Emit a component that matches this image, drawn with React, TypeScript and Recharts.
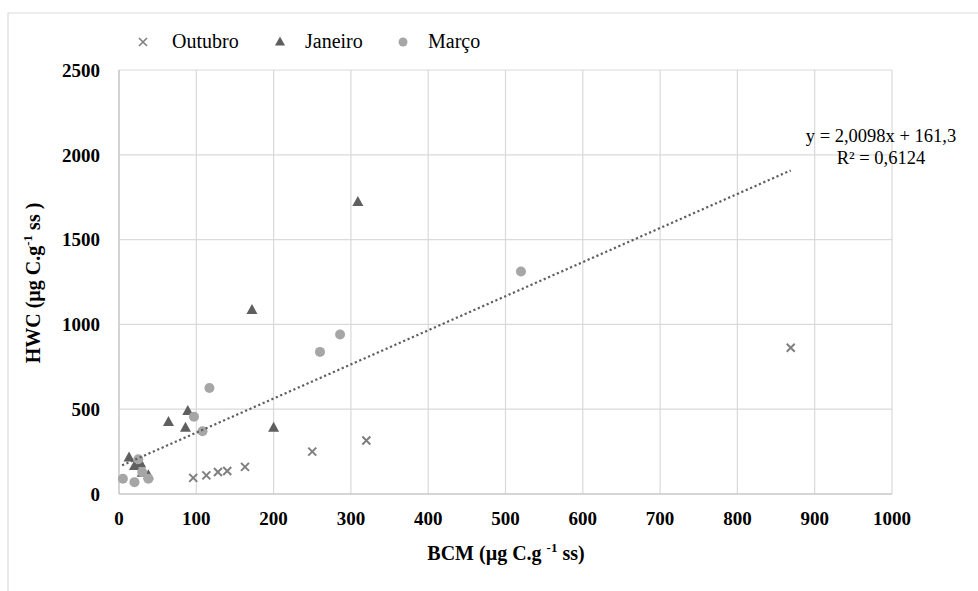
import React from 'react';
import { ScatterChart, Scatter, XAxis, YAxis, CartesianGrid } from 'recharts';

// values
const outubroX = [96, 113, 128, 140, 163, 250, 320, 869];
const outubroY = [95, 110, 130, 136, 160, 250, 315, 862];

const janeiroX = [13, 20, 28, 30, 38, 64, 86, 89, 172, 200, 309];
const janeiroY = [215, 165, 180, 125, 110, 425, 390, 490, 1085, 390, 1722];

const marcoX = [5, 20, 25, 30, 38, 97, 108, 117, 260, 286, 520];
const marcoY = [90, 70, 205, 130, 90, 455, 370, 625, 838, 940, 1312];

// linear trend line endpoints (y = 2,0098x + 161,3)
const trendX = [4, 869];
const trendY = [169, 1908];

const xTicks = [0, 100, 200, 300, 400, 500, 600, 700, 800, 900, 1000];
const yTicks = [0, 500, 1000, 1500, 2000, 2500];

const zip = (xs: number[], ys: number[]) => xs.map((x, i) => ({ x, y: ys[i] }));

const FONT = "'Liberation Serif', 'DejaVu Serif', serif";

const Cross = (props: any) => {
  const { cx, cy } = props;
  return (
    <path
      d={`M${cx - 4},${cy - 4}L${cx + 4},${cy + 4}M${cx + 4},${cy - 4}L${cx - 4},${cy + 4}`}
      stroke="#7f7f7f"
      strokeWidth={2}
      fill="none"
    />
  );
};

const Triangle = (props: any) => {
  const { cx, cy } = props;
  return (
    <polygon
      points={`${cx},${cy - 6} ${cx + 5.5},${cy + 4} ${cx - 5.5},${cy + 4}`}
      fill="#5f5f5f"
    />
  );
};

const Dot = (props: any) => {
  const { cx, cy } = props;
  return <circle cx={cx} cy={cy} r={5} fill="#a6a6a6" />;
};

const NoShape = () => <g />;

export default function App() {
  const tickStyle = { fontSize: 19, fontWeight: 'bold', fill: '#000', style: { fontFamily: FONT } };
  return (
    <div style={{ position: 'absolute', left: 0, top: 0, width: 978, height: 591, background: '#fff', fontFamily: FONT }}>
      <ScatterChart width={978} height={591} margin={{ top: 70, right: 86, bottom: 0, left: 0 }} style={{ fontFamily: FONT }}>
        <CartesianGrid stroke="#d9d9d9" strokeWidth={1.2} horizontal vertical />
        <XAxis
          type="number"
          dataKey="x"
          domain={[0, 1000]}
          ticks={xTicks}
          interval={0}
          height={97}
          stroke="#bfbfbf"
          tickLine={false}
          tickSize={0}
          tickMargin={18}
          tick={tickStyle}
        />
        <YAxis
          type="number"
          dataKey="y"
          domain={[0, 2500]}
          ticks={yTicks}
          interval={0}
          width={119}
          stroke="#bfbfbf"
          tickLine={false}
          tickSize={0}
          tickMargin={19}
          tick={tickStyle}
        />
        <Scatter name="Outubro" data={zip(outubroX, outubroY)} shape={Cross} isAnimationActive={false} />
        <Scatter name="Janeiro" data={zip(janeiroX, janeiroY)} shape={Triangle} isAnimationActive={false} />
        <Scatter name="Março" data={zip(marcoX, marcoY)} shape={Dot} isAnimationActive={false} />
        <Scatter
          name="Linear"
          data={zip(trendX, trendY)}
          shape={NoShape}
          line={{ stroke: '#5f5f5f', strokeWidth: 2.2, strokeDasharray: '2.2 2.6' }}
          isAnimationActive={false}
        />
      </ScatterChart>
      <svg
        width={978}
        height={591}
        style={{ position: 'absolute', left: 0, top: 0, pointerEvents: 'none', fontFamily: FONT }}
      >
        <path d="M8,591V13H978" fill="none" stroke="#d9d9d9" strokeWidth={1.2} />
        {/* legend */}
        <path d="M139,38L147,46M147,38L139,46" stroke="#7f7f7f" strokeWidth={1.6} />
        <text x={172} y={48} fontSize={20}>Outubro</text>
        <polygon points="280,36.5 285,45.5 275,45.5" fill="#5f5f5f" />
        <text x={305} y={48} fontSize={20}>Janeiro</text>
        <circle cx={403} cy={42} r={4.5} fill="#a6a6a6" />
        <text x={428} y={48} fontSize={20}>Março</text>
        {/* trend equation */}
        <text x={881} y={142} fontSize={18.5} textAnchor="middle">y = 2,0098x + 161,3</text>
        <text x={881} y={164} fontSize={18.5} textAnchor="middle">R² = 0,6124</text>
        {/* axis titles */}
        <text transform="translate(40,283) rotate(-90)" textAnchor="middle" fontSize={20} fontWeight="bold">
          HWC (µg C.g<tspan dy={-8} fontSize={13}>-1</tspan>
          <tspan dy={8}> ss )</tspan>
        </text>
        <text x={506} y={560} textAnchor="middle" fontSize={20} fontWeight="bold">
          BCM (µg C.g <tspan dy={-8} fontSize={13}>-1</tspan>
          <tspan dy={8}> ss)</tspan>
        </text>
      </svg>
    </div>
  );
}
